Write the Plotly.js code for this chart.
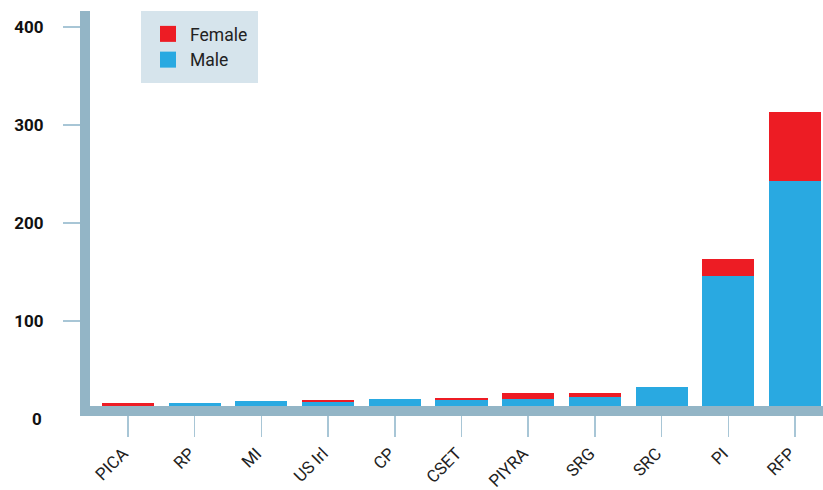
<!DOCTYPE html>
<html>
<head>
<meta charset="utf-8">
<script src="https://cdn.plot.ly/plotly-3.0.1.min.js"></script>
<style>html,body{margin:0;padding:0;background:#fff}#chart{width:823px;height:490px}</style>
</head>
<body>
<div id="chart"></div>
<script>
var categories = ["PICA", "RP", "MI", "US Irl", "CP", "CSET", "PIYRA", "SRG", "SRC", "PI", "RFP"];
var maleValues = [12, 16, 18, 17, 20, 19.5, 20.5, 22.5, 32.5, 146, 243];
var femaleValues = [4, 0, 0, 2.5, 0, 2, 6, 4, 0, 17, 70];
var yTickVals = [100, 200, 300, 400];
var yTickText = ["100", "200", "300", "400"];
var zeroLabel = "0";

var RED = "#ed1c24", BLUE = "#29a9e1", AXIS = "#93b5c6", TICK = "#a8c6d6", LEGBG = "#d6e4ec";
var yRange = [13.3, 416.3];
var xRange = [-0.57, 10.42];

var traces = [
  {type: "bar", name: "Male", x: categories, y: maleValues, marker: {color: BLUE}, showlegend: false, legendgroup: "m", hoverinfo: "x+y+name"},
  {type: "bar", name: "Female", x: categories, y: femaleValues, marker: {color: RED}, showlegend: false, legendgroup: "f", hoverinfo: "x+y+name"},
  {type: "scatter", name: "Female", x: [null], y: [null], mode: "markers", marker: {symbol: "square", size: 18, color: RED}, legendgroup: "f"},
  {type: "scatter", name: "Male", x: [null], y: [null], mode: "markers", marker: {symbol: "square", size: 18, color: BLUE}, legendgroup: "m"}
];

var FONT = "Roboto, 'DejaVu Sans', sans-serif";

var layout = {
  width: 823, height: 490,
  margin: {l: 90, r: 0, t: 11, b: 84, pad: 0},
  paper_bgcolor: "#fff", plot_bgcolor: "#fff",
  barmode: "stack", bargap: 0.22,
  showlegend: true,
  legend: {
    x: 0.0696, y: 1, xanchor: "left", yanchor: "top",
    bgcolor: LEGBG, bordercolor: LEGBG, borderwidth: 5,
    traceorder: "normal",
    font: {family: FONT, size: 17.5, color: "#222"},
    itemwidth: 34
  },
  xaxis: {
    type: "category", range: xRange, fixedrange: true,
    showline: true, linewidth: 10, linecolor: AXIS,
    showgrid: false, zeroline: false,
    ticks: "outside", ticklen: 21, tickwidth: 1.5, tickcolor: TICK,
    tickangle: -45, ticklabelshift: -5,
    tickfont: {family: FONT, size: 17, color: "#222"}
  },
  yaxis: {
    range: yRange, autorange: false, fixedrange: true,
    showline: true, linewidth: 10, linecolor: AXIS,
    showgrid: false, zeroline: false,
    tickmode: "array", tickvals: yTickVals, ticktext: yTickText,
    ticks: "outside", ticklen: 17, tickwidth: 1.5, tickcolor: TICK,
    ticklabelstandoff: 16,
    tickfont: {family: FONT, size: 17, color: "#111", weight: "bold"}
  },
  annotations: [{
    text: zeroLabel, xref: "paper", yref: "paper",
    x: 0, y: (0 - yRange[0]) / (yRange[1] - yRange[0]),
    xanchor: "right", yanchor: "middle", xshift: -46, showarrow: false,
    font: {family: FONT, size: 17, color: "#111", weight: "bold"}
  }]
};

Plotly.newPlot("chart", traces, layout, {displayModeBar: false, staticPlot: true});
</script>
</body>
</html>
